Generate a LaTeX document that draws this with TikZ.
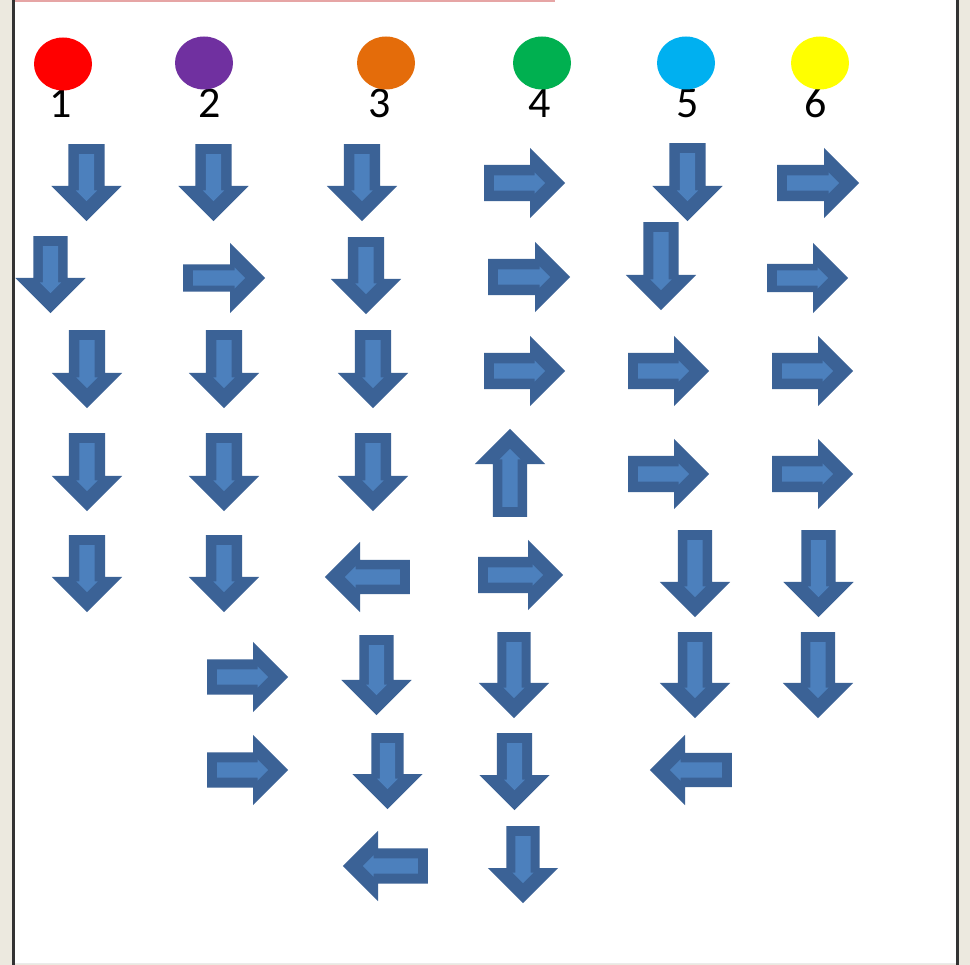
\documentclass[tikz,border=0pt]{standalone}
\usepackage{fontspec}
\setmainfont{Carlito}
\usetikzlibrary{shapes.arrows,shapes.geometric,calc}

\definecolor{arrowdark}{RGB}{59,98,150}
\definecolor{arrowlight}{RGB}{76,128,189}
\definecolor{panelgray}{RGB}{236,233,223}
\definecolor{topline}{RGB}{230,165,165}
\definecolor{dotred}{RGB}{255,0,0}
\definecolor{dotpurple}{RGB}{112,48,160}
\definecolor{dotorange}{RGB}{228,108,10}
\definecolor{dotgreen}{RGB}{0,176,80}
\definecolor{dotblue}{RGB}{0,176,240}
\definecolor{dotyellow}{RGB}{255,255,0}

\tikzset{
  barrow/.style={single arrow, fill=arrowdark, draw=none, inner xsep=0pt,
    minimum width=0pt, single arrow tip angle=90, anchor=tail},
  barrowin/.style={single arrow, fill=arrowlight, draw=none, inner xsep=0pt,
    inner ysep=7.5pt, minimum width=0pt, single arrow head extend=3pt,
    single arrow tip angle=90, anchor=tail},
  dot/.style={ellipse, fill=#1, draw=none, minimum width=58pt, minimum height=53pt, inner sep=0pt},
  numlabel/.style={anchor=base, inner sep=0pt, font=\fontsize{44}{50}\selectfont},
}

% block arrow: name, tail x, tail y, direction, length, shaft width
\newcommand\bluearrow[6]{%
  \node[barrow, rotate=#4, minimum height=#5pt, inner ysep=0.5*#6pt,
        single arrow head extend={(70pt-#6pt)/2}] (#1) at (#2,#3) {};
  \node[barrowin, rotate=#4, minimum height={#5pt-30pt}] (#1i)
        at ($(#1.tail)!10pt!(#1.tip)$) {};
}

\begin{document}
\begin{tikzpicture}[x=1pt,y=-1pt]
  \useasboundingbox (0,0) rectangle (970,965);
  % window frame
  \fill[panelgray] (0,0) rectangle (970,965);
  \fill[white] (14,0) rectangle (957,963);
  \draw[line width=2.5pt, black!80] (13.5,0) -- (13.5,965);
  \draw[line width=2.5pt, black!80] (957.5,0) -- (957.5,965);
  \draw[line width=1pt, black!8] (15,963.5) -- (956,963.5);
  \draw[line width=2.5pt, topline] (15,1) -- (555,1);

  % column numbers and colour dots
  \node[numlabel] (n1) at (61,118) {1};
  \node[numlabel] (n2) at (210,118) {2};
  \node[numlabel] (n3) at (380,118) {3};
  \node[numlabel] (n4) at (540,118) {4};
  \node[numlabel] (n5) at (688,118) {5};
  \node[numlabel] (n6) at (816,118) {6};
  \node[dot=dotred]    (d1) at (63,64) {};
  \node[dot=dotpurple] (d2) at (204,63) {};
  \node[dot=dotorange] (d3) at (386,63) {};
  \node[dot=dotgreen]  (d4) at (542,63) {};
  \node[dot=dotblue]   (d5) at (686,63) {};
  \node[dot=dotyellow] (d6) at (820,63) {};

  % row 1
  \bluearrow{a11}{86.5}{144}{-90}{77}{36}
  \bluearrow{a12}{213.5}{144}{-90}{77}{36}
  \bluearrow{a13}{362}{144}{-90}{77}{36}
  \bluearrow{a14}{484}{183}{0}{81}{36}
  \bluearrow{a15}{687.5}{143}{-90}{78}{36}
  \bluearrow{a16}{777}{183}{0}{82}{36}
  % row 2
  \bluearrow{a21}{50.5}{236}{-90}{77}{34}
  \bluearrow{a22}{183}{278}{0}{82}{27}
  \bluearrow{a23}{366}{237}{-90}{77}{36}
  \bluearrow{a24}{488}{277}{0}{82}{36}
  \bluearrow{a25}{661}{222}{-90}{88}{35}
  \bluearrow{a26}{767}{278}{0}{81}{28}
  % row 3
  \bluearrow{a31}{87}{330}{-90}{78}{36}
  \bluearrow{a32}{224}{330}{-90}{78}{36}
  \bluearrow{a33}{373}{330}{-90}{78}{36}
  \bluearrow{a34}{484}{371}{0}{81}{36}
  \bluearrow{a35}{628}{371}{0}{81}{36}
  \bluearrow{a36}{772}{371}{0}{81}{36}
  % row 4
  \bluearrow{a41}{87}{433}{-90}{78}{36}
  \bluearrow{a42}{224}{433}{-90}{78}{36}
  \bluearrow{a43}{373}{433}{-90}{78}{36}
  \bluearrow{a44}{510}{517}{90}{88}{34}
  \bluearrow{a45}{628}{474}{0}{81}{36}
  \bluearrow{a46}{772}{474}{0}{81}{36}
  % row 5
  \bluearrow{a51}{87}{535}{-90}{77}{36}
  \bluearrow{a52}{224}{535}{-90}{77}{36}
  \bluearrow{a53}{410}{577}{180}{85}{34}
  \bluearrow{a54}{478}{575}{0}{85}{36}
  \bluearrow{a55}{695}{530}{-90}{87}{34}
  \bluearrow{a56}{818.5}{530}{-90}{87}{34}
  % row 6
  \bluearrow{a62}{207}{677}{0}{81}{35}
  \bluearrow{a63}{376.5}{635}{-90}{80}{34}
  \bluearrow{a64}{514}{632}{-90}{86}{33}
  \bluearrow{a65}{695}{632}{-90}{86}{34}
  \bluearrow{a66}{818}{632}{-90}{86}{34}
  % row 7
  \bluearrow{a72}{207}{770}{0}{81}{35}
  \bluearrow{a73}{387.5}{733}{-90}{76}{32}
  \bluearrow{a74}{514.5}{733}{-90}{77}{35}
  \bluearrow{a75}{732}{770}{180}{82}{34}
  % row 8
  \bluearrow{a83}{428}{866}{180}{85}{35}
  \bluearrow{a84}{523}{826}{-90}{77}{33}
\end{tikzpicture}
\end{document}
